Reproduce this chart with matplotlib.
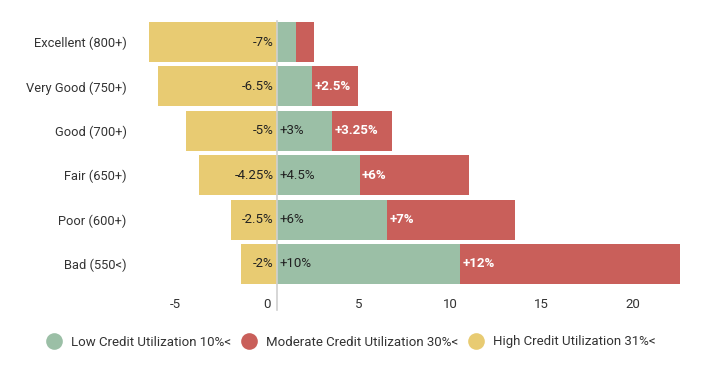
import matplotlib
matplotlib.use("Agg")
import matplotlib.pyplot as plt
import matplotlib.transforms as mtransforms
from matplotlib.lines import Line2D

plt.rcParams['font.family'] = ['Roboto', 'DejaVu Sans']

categories = ["Excellent (800+)", "Very Good (750+)", "Good (700+)",
              "Fair (650+)", "Poor (600+)", "Bad (550<)"]
low_util = [1.0, 1.9, 3.0, 4.5, 6.0, 10.0]
moderate_util = [1.0, 2.5, 3.25, 6.0, 7.0, 12.0]
high_util = [-7.0, -6.5, -5.0, -4.25, -2.5, -2.0]
low_labels = ["", "", "+3%", "+4.5%", "+6%", "+10%"]
moderate_labels = ["", "+2.5%", "+3.25%", "+6%", "+7%", "+12%"]
high_labels = ["-7%", "-6.5%", "-5%", "-4.25%", "-2.5%", "-2%"]
series_names = ["Low Credit Utilization 10%<", "Moderate Credit Utilization 30%<",
                "High Credit Utilization 31%<"]
x_ticks = [-5, 0, 5, 10, 15, 20]

GREEN = "#9bbfa6"
RED = "#c95f5a"
YELLOW = "#e8cb72"
TEXT = "#333333"

fig = plt.figure(figsize=(7.15, 3.81), dpi=100)
ax = fig.add_axes([140/715, (381-290.6)/381, 558/715, 275.2/381])

y = list(range(len(categories)))
h = 0.9
ax.barh(y, high_util, height=h, color=YELLOW, edgecolor="none")
ax.barh(y, low_util, height=h, color=GREEN, edgecolor="none")
ax.barh(y, moderate_util, left=low_util, height=h, color=RED, edgecolor="none")

off_l = mtransforms.offset_copy(ax.transData, fig=fig, x=-3.5, y=0, units='dots')
off_r = mtransforms.offset_copy(ax.transData, fig=fig, x=2.5, y=0, units='dots')
for i in y:
    if high_labels[i]:
        ax.text(0, i, high_labels[i], transform=off_l, ha='right', va='center',
                fontsize=9.5, color="#222222")
    if low_labels[i]:
        ax.text(0, i, low_labels[i], transform=off_r, ha='left', va='center',
                fontsize=9.5, color="#222222")
    if moderate_labels[i]:
        ax.text(low_util[i], i, moderate_labels[i], transform=off_r, ha='left',
                va='center', fontsize=9.5, color="white", fontweight='bold')

ax.set_xlim(-7.5, 23)
ax.set_ylim(5.6, -0.6)
ax.set_yticks(y)
ax.set_yticklabels(categories, fontsize=9.3, color=TEXT)
ax.set_xticks(x_ticks)
ax.set_xticklabels([str(t) for t in x_ticks], fontsize=9.5, color=TEXT)
ax.tick_params(axis='both', length=0)
ax.tick_params(axis='y', pad=9.5)
ax.tick_params(axis='x', pad=5)
shift = mtransforms.ScaledTranslation(-10/100, 0, fig.dpi_scale_trans)
for lbl in ax.get_xticklabels():
    lbl.set_transform(lbl.get_transform() + shift)
for s in ax.spines.values():
    s.set_visible(False)

ax.axvline(0, ymin=-0.07, ymax=0.98, color="#d0d0d0", lw=1.2, clip_on=False, zorder=3)

handles = [Line2D([], [], marker='o', linestyle='none', markersize=12,
                  markerfacecolor=c, markeredgecolor='none')
           for c in (GREEN, RED, YELLOW)]
fig.legend(handles, series_names, loc='center', bbox_to_anchor=(351/715, (381-342)/381),
           ncol=3, frameon=False, fontsize=9.5, labelcolor=TEXT,
           handletextpad=0.72, columnspacing=0.72, handlelength=1.2)

fig.savefig("out.png", dpi=100)
